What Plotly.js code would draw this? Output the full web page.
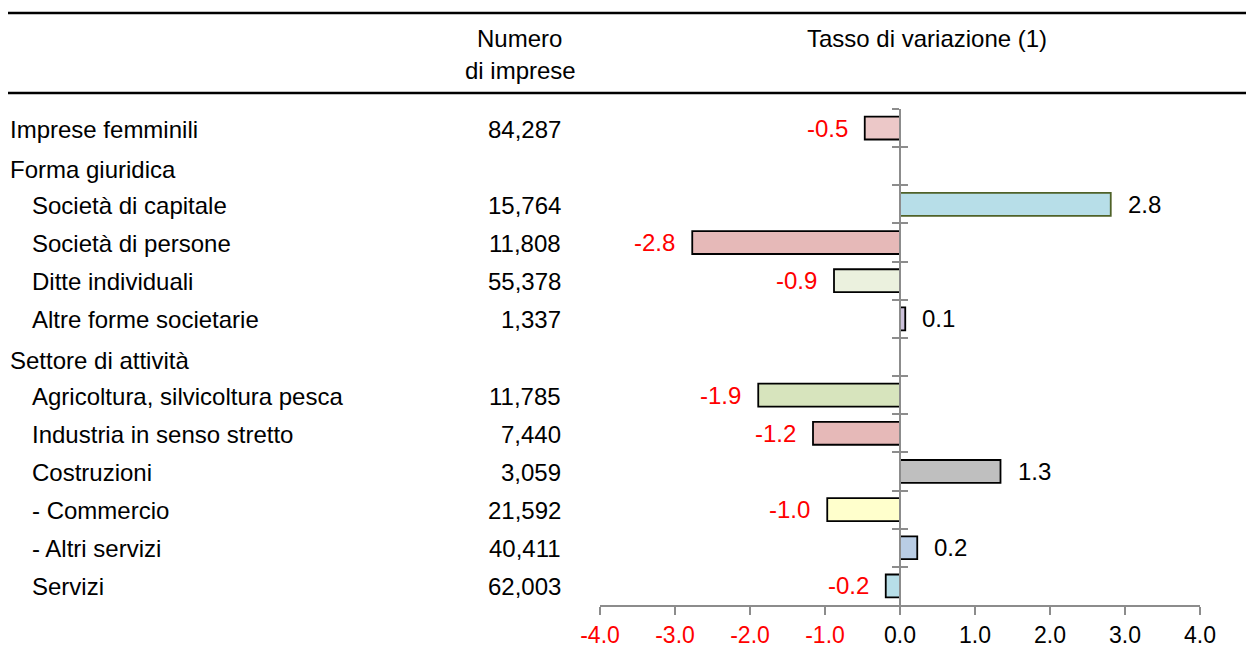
<!DOCTYPE html>
<html>
<head>
<meta charset="utf-8">
<script src="https://cdn.plot.ly/plotly-3.0.1.min.js"></script>
<style>html,body{margin:0;padding:0;background:#fff;}#chart{width:1246px;height:666px;}</style>
</head>
<body>
<div id="chart"></div>
<script>
const categories = ["Imprese femminili", "Forma giuridica", "Società di capitale", "Società di persone",
  "Ditte individuali", "Altre forme societarie", "Settore di attività", "Agricoltura, silvicoltura pesca",
  "Industria in senso stretto", "Costruzioni", "- Commercio", "- Altri servizi", "Servizi"];
const groupHeaders = ["Imprese femminili", "Forma giuridica", "Settore di attività"];
const numeroImprese = [84287, null, 15764, 11808, 55378, 1337, null, 11785, 7440, 3059, 21592, 40411, 62003];
const tassoVariazione = [-0.47, null, 2.81, -2.77, -0.88, 0.07, null, -1.89, -1.16, 1.34, -0.97, 0.23, -0.19];
const barColors = ["#ECC8C8", null, "#B7DEE8", "#E6B9B8", "#EBF1DE", "#CCC1DA", null, "#D7E4BD",
  "#E6B9B8", "#BFBFBF", "#FFFFCC", "#B9CDE5", "#B7DEE8"];
const barLineColors = ["#000000", null, "#4F6228", "#000000", "#000000", "#000000", null, "#000000",
  "#000000", "#000000", "#000000", "#000000", "#000000"];
const xTickValues = [-4, -3, -2, -1, 0, 1, 2, 3, 4];
const headerNumero = ["Numero", "di imprese"];
const headerTasso = "Tasso di variazione (1)";

const W = 1246, H = 666;
const plotTop = 109, plotBottom = 605;
const FONT = "Arial, 'Liberation Sans', sans-serif";
const FS = 24;
const py = p => (plotBottom - p) / (plotBottom - plotTop);
const px = p => p / W;

const bars = {
  type: "bar", orientation: "h",
  y: categories, x: tassoVariazione,
  width: 0.6,
  marker: { color: barColors, line: { color: barLineColors, width: 1.8 } },
  hoverinfo: "none", showlegend: false, cliponaxis: false
};
const dummy = { type: "scatter", x: [], y: [], yaxis: "y2", showlegend: false, hoverinfo: "none" };

const annotations = [];
categories.forEach((c, i) => {
  const isHeader = groupHeaders.includes(c);
  annotations.push({ xref: "paper", yref: "y", x: px(isHeader ? 8 : 30), y: c, text: c,
    xanchor: "left", yanchor: "middle", showarrow: false, yshift: (isHeader && i > 0) ? -3 : -1,
    font: { family: FONT, size: FS, color: "#000" } });
  if (numeroImprese[i] !== null) {
    annotations.push({ xref: "paper", yref: "y", x: px(563), y: c,
      text: numeroImprese[i].toLocaleString("en-US"), yshift: -1,
      xanchor: "right", yanchor: "middle", showarrow: false, font: { family: FONT, size: FS, color: "#000" } });
  }
  const v = tassoVariazione[i];
  if (v !== null) {
    annotations.push({ xref: "x", yref: "y", x: v, y: c, text: v.toFixed(1),
      xanchor: v < 0 ? "right" : "left", xshift: v < 0 ? -15 : 15, yanchor: "middle", showarrow: false,
      font: { family: FONT, size: FS, color: v < 0 ? "#FF0000" : "#000000" } });
  }
});
annotations.push({ xref: "paper", yref: "paper", x: px(519), y: py(38), text: headerNumero[0],
  xanchor: "center", yanchor: "middle", showarrow: false, font: { family: FONT, size: FS, color: "#000" } });
annotations.push({ xref: "paper", yref: "paper", x: px(520), y: py(71), text: headerNumero[1],
  xanchor: "center", yanchor: "middle", showarrow: false, font: { family: FONT, size: FS, color: "#000" } });
annotations.push({ xref: "paper", yref: "paper", x: px(927), y: py(38), text: headerTasso,
  xanchor: "center", yanchor: "middle", showarrow: false, font: { family: FONT, size: FS, color: "#000" } });

const shapes = [
  { type: "line", xref: "paper", yref: "paper", x0: px(8), x1: 1, y0: py(13), y1: py(13), line: { color: "#000", width: 2.5 } },
  { type: "line", xref: "paper", yref: "paper", x0: px(8), x1: 1, y0: py(93), y1: py(93), line: { color: "#000", width: 2.5 } }
];

const nCat = categories.length;
const boundaries = categories.map((_, i) => i - 0.5).concat([nCat - 0.5]);

const layout = {
  width: W, height: H,
  margin: { l: 0, r: 0, t: plotTop, b: H - plotBottom, pad: 0 },
  paper_bgcolor: "#fff", plot_bgcolor: "rgba(0,0,0,0)",
  font: { family: FONT, size: FS, color: "#000" },
  showlegend: false,
  xaxis: {
    domain: [px(600), px(1200)], range: [-4, 4], fixedrange: true,
    showgrid: false, zeroline: false,
    showline: true, linecolor: "#8C8C8C", linewidth: 2,
    ticks: "outside", ticklen: 8, tickwidth: 2, tickcolor: "#8C8C8C",
    tickvals: xTickValues,
    ticktext: xTickValues.map(v => v < 0 ? `<span style="color:#FF0000">${v.toFixed(1)}</span>` : v.toFixed(1)),
    tickfont: { family: FONT, size: 23, color: "#000" }
  },
  yaxis: {
    type: "category", categoryarray: categories, range: [nCat - 0.5, -0.5],
    anchor: "free", position: px(900), fixedrange: true,
    showgrid: false, zeroline: false, showticklabels: false,
    showline: true, linecolor: "#8C8C8C", linewidth: 2,
    ticks: "outside", tickson: "boundaries", ticklen: 7, tickwidth: 2, tickcolor: "#8C8C8C"
  },
  yaxis2: {
    overlaying: "y", anchor: "free", position: px(900), range: [nCat - 0.5, -0.5], fixedrange: true,
    showgrid: false, zeroline: false, showticklabels: false, showline: false,
    tickmode: "array", tickvals: boundaries,
    ticks: "inside", ticklen: 7, tickwidth: 2, tickcolor: "#8C8C8C"
  },
  annotations: annotations,
  shapes: shapes
};

Plotly.newPlot("chart", [bars, dummy], layout, { displayModeBar: false, staticPlot: true });
</script>
</body>
</html>
